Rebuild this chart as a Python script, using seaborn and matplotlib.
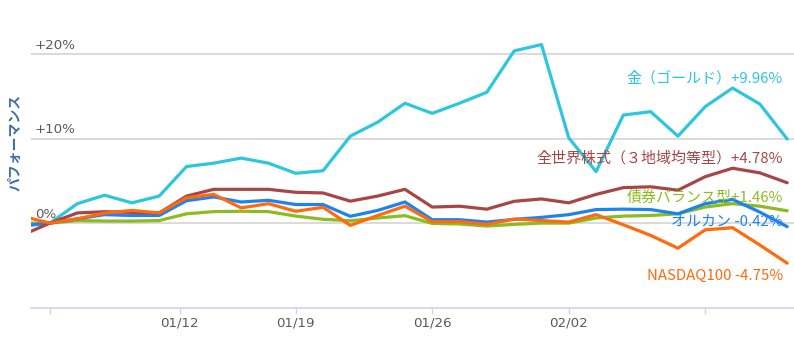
import matplotlib
matplotlib.use("Agg")
import matplotlib.pyplot as plt
import numpy as np
import pandas as pd
import seaborn as sns
from matplotlib.transforms import blended_transform_factory

# ---------------- data ----------------
days = list(range(-1, 28))  # trading-day index; 0 = 01/05 base date
gold = [-0.34, 0.0, 2.3, 3.3, 2.4, 3.2, 6.7, 7.1, 7.7, 7.1, 5.9, 6.2, 10.3, 11.95,
        14.2, 13.0, 14.2, 15.5, 20.4, 21.15, 10.1, 6.1, 12.8, 13.2, 10.3, 13.8,
        16.0, 14.1, 9.96]
world = [-1.4, 0.0, 1.2, 1.35, 1.27, 1.2, 3.2, 4.0, 4.0, 4.0, 3.65, 3.57, 2.6, 3.2,
         4.0, 1.9, 2.0, 1.65, 2.58, 2.86, 2.4, 3.4, 4.2, 4.3, 3.9, 5.5, 6.5, 5.95, 4.78]
bond = [0.0, 0.0, 0.3, 0.24, 0.24, 0.3, 1.1, 1.36, 1.4, 1.36, 0.83, 0.45, 0.28, 0.6,
        0.88, -0.04, -0.1, -0.35, -0.15, 0.0, 0.0, 0.6, 0.83, 0.9, 1.1, 1.9, 2.3, 2.0, 1.46]
orkan = [-0.3, 0.0, 0.5, 1.0, 0.9, 0.9, 2.65, 3.1, 2.5, 2.7, 2.2, 2.2, 0.8, 1.5,
         2.5, 0.4, 0.4, 0.12, 0.44, 0.68, 1.0, 1.6, 1.65, 1.6, 1.1, 2.3, 2.8, 1.3, -0.42]
nasdaq = [0.8, 0.0, 0.5, 1.2, 1.5, 1.2, 3.0, 3.4, 1.8, 2.3, 1.4, 1.87, -0.27, 0.9,
          2.0, 0.17, 0.17, -0.15, 0.48, 0.3, 0.12, 1.0, -0.2, -1.46, -2.97, -0.8,
          -0.55, -2.6, -4.75]

series_names = ["金（ゴールド）", "全世界株式（３地域均等型）", "債券バランス型", "オルカン", "NASDAQ100"]
series_values = [gold, world, bond, orkan, nasdaq]
end_labels = ["金（ゴールド）+9.96%", "全世界株式（３地域均等型）+4.78%",
              "債券バランス型+1.46%", "オルカン -0.42%", "NASDAQ100 -4.75%"]

xtick_pos = [0, 4.75, 9, 14, 19, 24]
xtick_labels = ["", "01/12", "01/19", "01/26", "02/02", ""]
ytick_vals = [0, 10, 20]
ytick_labels = ["0%", "+10%", "+20%"]
ylabel = "パフォーマンス"

# ---------------- style ----------------
colors = {
    "金（ゴールド）": "#2cc6df",
    "全世界株式（３地域均等型）": "#a84646",
    "債券バランス型": "#8dbb22",
    "オルカン": "#1d82f2",
    "NASDAQ100": "#ff6a0d",
}
draw_order = ["金（ゴールド）", "債券バランス型", "オルカン", "全世界株式（３地域均等型）", "NASDAQ100"]
label_y = [17.2, 7.7, 2.97, 0.13, -6.27]

sns.set_theme(style="white")
plt.rcParams["font.family"] = ["Noto Sans CJK JP", "DejaVu Sans"]

df = pd.concat([
    pd.DataFrame({"day": days, "value": vals, "series": name})
    for name, vals in zip(series_names, series_values)
], ignore_index=True)

W, H = 794, 338
fig = plt.figure(figsize=(W / 100, H / 100), dpi=100)
ax = fig.add_axes([31 / W, 1 - 307.5 / H, 763 / W, 307.5 / H])

# grid lines
for v in ytick_vals:
    ax.axhline(v, color="#d4d4d4", lw=1.2, zorder=0)

sns.lineplot(data=df, x="day", y="value", hue="series", hue_order=draw_order,
             palette=colors, linewidth=2.3, sort=False, legend=False, ax=ax,
             estimator=None)

ax.set_xlim(-0.696, 27.25)
ax.set_ylim(-10, 26.43)

# y tick labels drawn inside the plot
trans = blended_transform_factory(ax.transAxes, ax.transData)
for v, lab in zip(ytick_vals, ytick_labels):
    ax.text(0.005, v + 0.3, lab, transform=trans, ha="left", va="bottom",
            fontsize=9.6, color="#5a5a5a", family=["DejaVu Sans"])
ax.set_yticks([])

ax.set_xticks(xtick_pos)
ax.set_xticklabels(xtick_labels, fontsize=9.6, color="#5a5a5a", family=["DejaVu Sans"])
ax.tick_params(axis="x", length=4, width=1, color="#ccd6eb", pad=2.5, bottom=True)
ax.set_xlabel("")
ax.set_ylabel("")

for s in ["top", "right", "left"]:
    ax.spines[s].set_visible(False)
ax.spines["bottom"].set_color("#ccd6eb")
ax.spines["bottom"].set_linewidth(1.2)

# end labels
for name, lab, ly in zip(series_names, end_labels, label_y):
    ax.text(26.85, ly, lab, ha="right", va="center", fontsize=10.8,
            color=colors[name])

fig.text(15 / W, 1 - 142 / H, ylabel, rotation=90, ha="center", va="center",
         fontsize=10, fontweight="bold", color="#3f6fa6")

fig.savefig("out.png", dpi=100)
